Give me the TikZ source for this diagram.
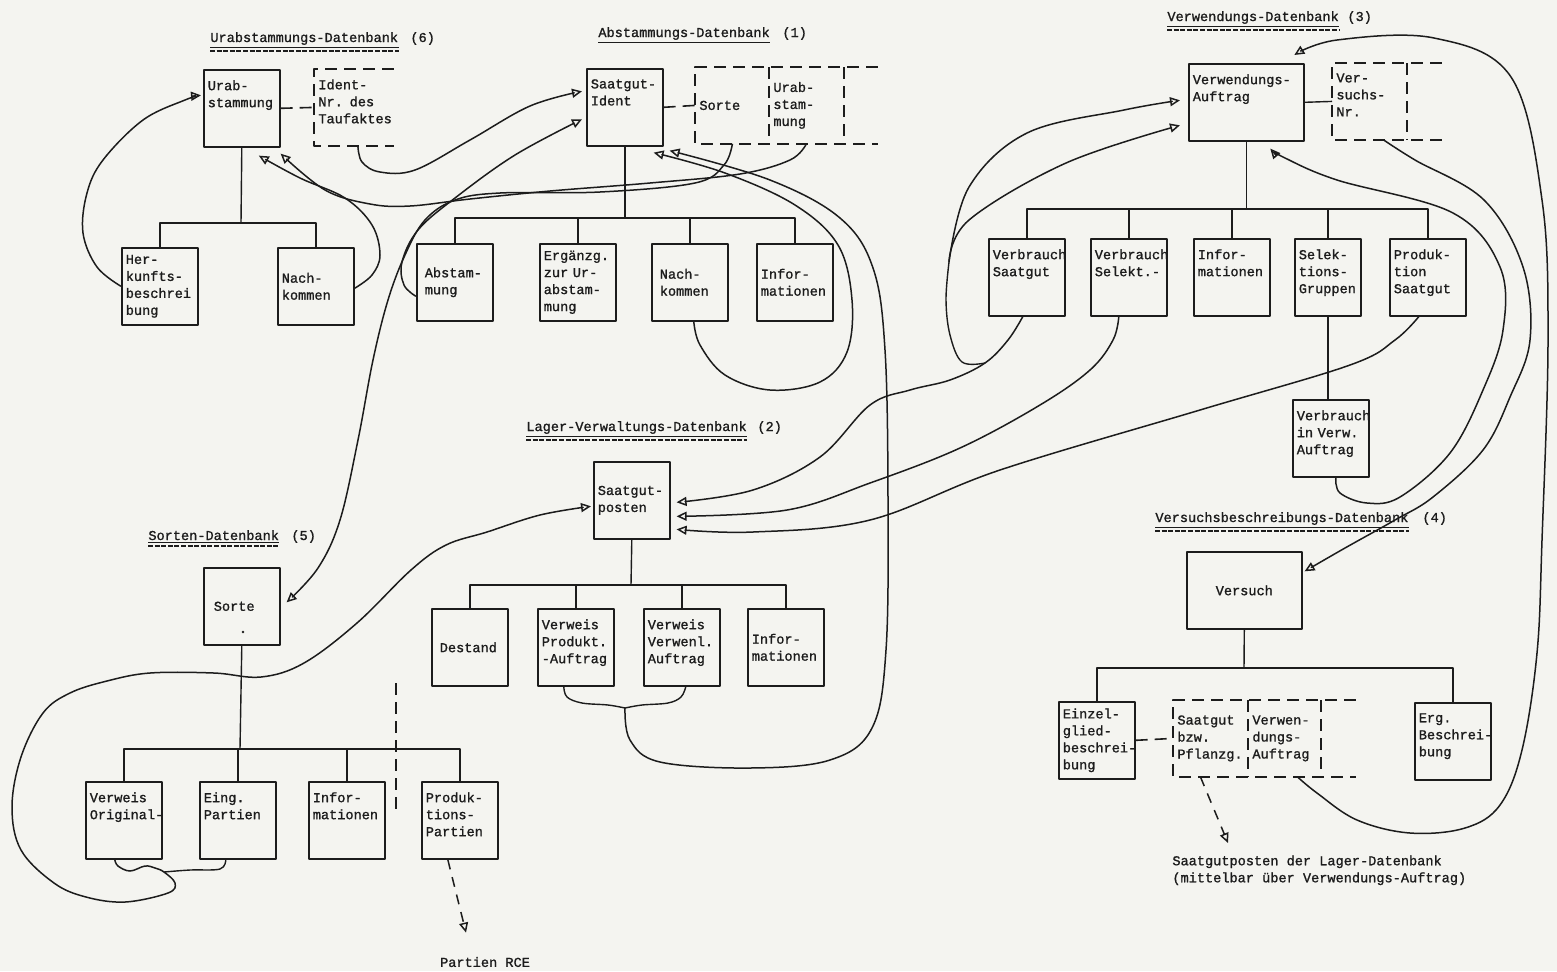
\documentclass[tikz,border=0pt]{standalone}
\usepackage{fontspec}
\newfontfamily\tw{Liberation Mono}[FakeBold=1.2]
\usetikzlibrary{arrows.meta,calc}
\definecolor{paper}{HTML}{F4F4F0}
\definecolor{ink}{HTML}{1C1C1C}
\newcommand{\up}[1]{\parbox[c][28pt][t]{\linewidth}{\raggedright #1}}

\begin{document}
\begin{tikzpicture}[
  x=0.5pt, y=-0.5pt,
  line join=round,
  font=\tw\fontsize{6.8}{8.5}\selectfont,
  every node/.style={text=ink},
  rec/.style={draw=ink, line width=0.8pt, anchor=north west, minimum width=38pt,
              minimum height=38.5pt, text width=34pt, inner sep=2pt, align=left},
  wide/.style={minimum width=57.5pt, text width=53.5pt},
  field/.style={anchor=north west, minimum width=37pt, minimum height=38pt,
                text width=33pt, inner sep=2pt, align=left},
  fieldline/.style={draw=ink, line width=0.8pt, dash pattern=on 6pt off 3.5pt},
  branch/.style={draw=ink, line width=0.7pt},
  ref/.style={draw=ink, line width=0.75pt, -{Triangle[open, length=5pt, width=4.5pt]}},
  dref/.style={ref, dash pattern=on 5pt off 4pt},
  dbtitle/.style={anchor=base west, inner sep=0pt},
]
\useasboundingbox (0,0) rectangle (1557,971);
\fill[paper] (0,0) rectangle (1557,971);

% --- Urabstammungs-Datenbank (6) ---
\node[dbtitle] (t6) at (210,42) {Urabstammungs-Datenbank};
\node[dbtitle] (t6n) at (410,42) {(6)};
\node[rec] (urab) at (203,69) {\up{Urab-\\stammung}};
\node[field, minimum width=39.5pt, text width=35.5pt] (identnr) at (314,69)
  {\up{Ident-\\Nr. des\\Taufaktes}};
\draw[fieldline] (identnr.north east) -- (identnr.north west)
  -- (identnr.south west) -- (identnr.south east);
\draw[fieldline] (urab.east) -- (identnr.west);

\node[rec] (herk) at (121,247) {Her-\\kunfts-\\beschrei\\bung};
\node[rec] (nachk1) at (277,247) {Nach-\\kommen};
\coordinate (bus6) at (241,223);
\draw[branch] (urab.south) -- (bus6);
\draw[branch] (herk.north) |- (bus6) -| (nachk1.north);

% --- Abstammungs-Datenbank (1) ---
\node[dbtitle] (t1) at (598,37) {Abstammungs-Datenbank};
\node[dbtitle] (t1n) at (782,37) {(1)};
\node[rec] (sgident) at (586,68) {\up{Saatgut-\\Ident}};
\node[field] (fsorte) at (695,67) {Sorte};
\node[field] (furab) at (769,67) {Urab-\\stam-\\mung};
\draw[fieldline] ([xshift=17pt]furab.north east) -- (fsorte.north west)
  -- (fsorte.south west) -- ([xshift=17pt]furab.south east);
\draw[fieldline] (furab.north west) -- (furab.south west);
\draw[fieldline] (furab.north east) -- (furab.south east);
\draw[fieldline] (sgident.east) -- (fsorte.west);

\node[rec] (abst) at (416,243) {\hspace*{2pt}Abstam-\\\hspace*{2pt}mung};
\node[rec] (ergz) at (539,243) {Ergänzg.\\zur Ur-\\abstam-\\mung};
\node[rec] (nachk2) at (651,243) {\hspace*{2pt}Nach-\\\hspace*{2pt}kommen};
\node[rec] (infoa) at (756,243) {Infor-\\mationen};
\coordinate (busA) at (623,218);
\draw[branch] (sgident.south) -- (sgident.south |- busA);
\draw[branch] (abst.north) |- (busA) -| (infoa.north);
\foreach \c in {ergz,nachk2}
  \draw[branch] (\c.north) -- (\c.north |- busA);

% --- Verwendungs-Datenbank (3) ---
\node[dbtitle] (t3) at (1167,21) {Verwendungs-Datenbank};
\node[dbtitle] (t3n) at (1347,21) {(3)};
\node[rec, wide] (verwa) at (1188,63) {\up{Verwendungs-\\Auftrag}};
\node[field] (versnr) at (1332,63) {\up{Ver-\\suchs-\\Nr.}};
\draw[fieldline] ([xshift=17.5pt]versnr.north east) -- (versnr.north west)
  -- (versnr.south west) -- ([xshift=17.5pt]versnr.south east);
\draw[fieldline] (versnr.north east) -- (versnr.south east);
\draw[branch] (verwa.east) -- (versnr.west);

\node[rec] (vsaat) at (988,238) {\up{Verbrauch\\Saatgut}};
\node[rec] (vsel) at (1090,238) {\up{Verbrauch\\Selekt.-}};
\node[rec] (infov) at (1193,238) {\up{Infor-\\mationen}};
\node[rec, minimum width=33pt, text width=29pt] (selgr) at (1294,238)
  {\up{Selek-\\tions-\\Gruppen}};
\node[rec] (prods) at (1389,238) {\up{Produk-\\tion\\Saatgut}};
\coordinate (busV) at (1246,209);
\draw[branch] (verwa.south) -- (verwa.south |- busV);
\draw[branch] (vsaat.north) |- (busV) -| (prods.north);
\foreach \c in {vsel,infov,selgr}
  \draw[branch] (\c.north) -- (\c.north |- busV);

\node[rec] (vinv) at (1292,399) {\up{Verbrauch\\in Verw.\\Auftrag}};
\draw[branch] (selgr.south) -- (selgr.south |- vinv.north);

% --- Lager-Verwaltungs-Datenbank (2) ---
\node[dbtitle] (t2) at (526,431) {Lager-Verwaltungs-Datenbank};
\node[dbtitle] (t2n) at (757,431) {(2)};
\node[rec] (sgposten) at (593,461) {Saatgut-\\posten};
\node[rec] (bestand) at (431,608) {\hspace*{2pt}Destand};
\node[rec] (vprod) at (537,608) {\up{Verweis\\Produkt.\\-Auftrag}};
\node[rec] (vverw) at (643,608) {\up{Verweis\\Verwenl.\\Auftrag}};
\node[rec] (infol) at (747,608) {Infor-\\mationen};
\coordinate (busL) at (631,585);
\draw[branch] (sgposten.south) -- (busL);
\draw[branch] (bestand.north) |- (busL) -| (infol.north);
\foreach \c in {vprod,vverw}
  \draw[branch] (\c.north) -- (\c.north |- busL);

% brace under the two references
\coordinate (brace) at (625,708);
\draw[branch] plot[smooth, tension=0.6] coordinates
  {([xshift=-6pt]vprod.south) (567,697) (582,703) (608,705) (brace)};
\draw[branch] plot[smooth, tension=0.6] coordinates
  {([xshift=2pt]vverw.south) (681,697) (668,703) (642,705) (brace)};

% --- Sorten-Datenbank (5) ---
\node[dbtitle] (t5) at (148,540) {Sorten-Datenbank};
\node[dbtitle] (t5n) at (291,540) {(5)};
\node[rec] (sorte) at (203,567) {\hspace*{3pt}Sorte};
\fill[ink] (243,632) circle (0.7pt);
\node[rec] (vorig) at (85,781) {\up{Verweis\\\mbox{Original-}}};
\node[rec] (eingp) at (199,781) {\up{Eing.\\Partien}};
\node[rec] (infos) at (308,781) {\up{Infor-\\mationen}};
\node[rec] (prodp) at (421,781) {\up{Produk-\\tions-\\Partien}};
\coordinate (busS) at (240,749);
\draw[branch] (sorte.south) -- (busS);
\draw[branch] (vorig.north) |- (busS) -| (prodp.north);
\foreach \c in {eingp,infos}
  \draw[branch] (\c.north) -- (\c.north |- busS);
\draw[fieldline] (396,683) -- (396,812);

\node[inner sep=0pt] (rce) at (485,962) {Partien RCE};
\draw[dref] ([xshift=-6pt]prodp.south) -- ([xshift=-9.5pt, yshift=12pt]rce.north);

% --- Versuchsbeschreibungs-Datenbank (4) ---
\node[dbtitle] (t4) at (1155,522) {Versuchsbeschreibungs-Datenbank};
\node[dbtitle] (t4n) at (1422,522) {(4)};
\node[rec, wide, align=center] (versuch) at (1186,551) {Versuch\\[3pt]};
\node[rec] (einzel) at (1058,701) {Einzel-\\glied-\\\mbox{beschrei-}\\bung};
\node[field] (fsaat) at (1173,700) {Saatgut\\bzw.\\Pflanzg.};
\node[field, minimum width=36pt, text width=32pt] (fverw) at (1248,700)
  {Verwen-\\dungs-\\Auftrag};
\node[rec] (erg) at (1414,702) {\up{Erg.\\\mbox{Beschrei-}\\bung}};
\coordinate (busE) at (1244,668);
\draw[branch] (versuch.south) -- (busE);
\draw[branch] (einzel.north) |- (busE) -| (erg.north);
\draw[fieldline] ([xshift=17.5pt]fverw.north east) -- (fsaat.north west)
  -- (fsaat.south west) -- ([xshift=17.5pt]fverw.south east);
\draw[fieldline] (fsaat.north east) -- (fsaat.south east);
\draw[fieldline] (fverw.north east) -- (fverw.south east);
\draw[fieldline] (einzel.east) -- (fsaat.west);

\node[anchor=north west, align=left, inner sep=0pt] (cap) at (1172,855)
  {Saatgutposten der Lager-Datenbank\\(mittelbar über Verwendungs-Auftrag)};
\draw[dref] ([xshift=-5pt]fsaat.south) -- ([xshift=28pt, yshift=6pt]cap.north west);

% underlines of the titles
\foreach \t in {t6,t3,t2,t5,t4} {
  \draw[ink, line width=0.5pt] ([yshift=-1.2pt]\t.south west) -- ([yshift=-1.2pt]\t.south east);
  \draw[ink, line width=1pt, dash pattern=on 2.5pt off 0.8pt]
    ([yshift=-2.8pt]\t.south west) -- ([yshift=-2.8pt]\t.south east);
}
\draw[ink, line width=0.5pt] ([yshift=-1.2pt]t1.south west) -- ([yshift=-1.2pt]t1.south east);

% --- references (6) ---
\draw[ref] plot[smooth, tension=0.6] coordinates
  {(herk.west) (97,267) (83,233) (87,193) (103,160) (143,120) (185,100)
   ([xshift=-1pt, yshift=6.5pt]urab.west)};
\draw[ref] plot[smooth, tension=0.6] coordinates
  {([yshift=-1pt]nachk1.east) (372,275) (380,255) (372,225) (345,198) (300,178)
   ([xshift=8.5pt, yshift=-4pt]urab.south)};
\draw[ref] plot[smooth, tension=0.6] coordinates
  {(furab.south) (790,160) (740,174) (650,183) (550,191) (470,199) (410,206)
   (370,204) (325,190) ([yshift=-3pt]urab.south east)};

% --- references (1) ---
\draw[ref] plot[smooth, tension=0.6] coordinates
  {([xshift=2pt]identnr.south) (362,162) (380,172) (415,170) (470,140) (530,106)
   ([xshift=-2pt, yshift=8pt]sgident.west)};
\draw[ref] plot[smooth, tension=0.6] coordinates
  {([yshift=-7pt]abst.west) (404,285) (402,262) (418,230) (455,198) (515,155)
   ([xshift=-2pt, yshift=-6pt]sgident.west)};
\draw[ref] plot[smooth, tension=0.6] coordinates
  {(fsorte.south) (724,165) (695,183) (600,192) (500,193) (455,200) (425,220)
   (405,255) (388,300) (373,360) (358,440) (340,520) (318,568)
   ([xshift=3pt, yshift=2pt]sorte.east)};
\draw[ref] plot[smooth, tension=0.6] coordinates
  {([xshift=2pt]nachk2.south) (700,345) (725,375) (770,390) (820,382) (847,352)
   (852,300) (838,245) (795,205) (725,173)
   ([xshift=-5pt, yshift=-3pt]sgident.south east)};
\draw[ref] plot[smooth, tension=0.6] coordinates
  {(brace) (630,740) (660,762) (750,768) (830,760) (872,728) (886,650) (888,500)
   (885,350) (873,268) (840,218) (770,180)
   ([xshift=3pt, yshift=-2pt]sgident.south east)};

% --- references (2) ---
\draw[ref] plot[smooth, tension=0.6] coordinates
  {([xshift=-4.5pt]vorig.south) (118,866) (130,871) (145,866) (155,868) (164,872)
   (175,883) (168,893) (125,902) (86,897) (54,883) (21,850) (12,807) (21,757)
   (43,713) (70,693) (107,681) (150,673) (214,673) (261,677) (304,663) (357,623)
   (411,570) (446,545) (487,532) (540,515) ([xshift=-1pt, yshift=-3pt]sgposten.west)};
\draw[branch] plot[smooth, tension=0.6] coordinates
  {(164,872) (190,870) (220,869) ([xshift=-6pt]eingp.south)};
\coordinate (vfork) at (985,363);
\draw[ref] plot[smooth, tension=0.6] coordinates
  {([xshift=-2pt]vsaat.south) (1008,340) (vfork) (950,380) (910,390) (870,405)
   (820,457) (753,490) ([xshift=3pt, yshift=-1pt]sgposten.east)};
\draw[ref] plot[smooth, tension=0.6] coordinates
  {([xshift=-5pt]vsel.south) (1113,340) (1090,370) (1040,405) (960,448) (870,483)
   (787,510) ([xshift=3pt, yshift=-8pt]sgposten.east)};
\draw[ref] plot[smooth, tension=0.6] coordinates
  {([xshift=-4.5pt]prods.south) (1395,340) (1350,365) (1200,410) (1000,470)
   (870,520) (753,532) ([xshift=3pt, yshift=-14.5pt]sgposten.east)};

% --- references (3) ---
\coordinate (lbend) at (949,262);
\draw[branch] plot[smooth, tension=0.6] coordinates
  {(vfork) (962,362) (950,335) (946,300) (lbend)};
\draw[ref] plot[smooth, tension=0.6] coordinates
  {(lbend) (969,187) (1027,133) (1124,110) ([xshift=-4pt, yshift=1pt]verwa.west)};
\draw[ref] plot[smooth, tension=0.6] coordinates
  {(lbend) (969,220) (1066,163) ([xshift=-4pt, yshift=-11.5pt]verwa.west)};
\draw[ref] plot[smooth, tension=0.6] coordinates
  {([xshift=2.5pt]vinv.south) (1340,493) (1367,503) (1400,497) (1450,453)
   (1483,390) (1503,330) (1500,267) (1453,213) (1337,180) (1285,158)
   ([xshift=12pt, yshift=-3.5pt]verwa.south)};
\draw[ref] plot[smooth, tension=0.6] coordinates
  {([xshift=6.5pt]fverw.south) (1317,793) (1357,820) (1410,833) (1465,828)
   (1500,805) (1522,750) (1537,653) (1542,540) (1548,340) (1542,200) (1511,77)
   (1434,38) (1337,40) ([xshift=24pt, yshift=4pt]verwa.north)};

% --- references (4) ---
\draw[ref] plot[smooth, tension=0.6] coordinates
  {([xshift=7pt]versnr.south) (1415,160) (1484,200) (1523,267) (1530,340)
   (1510,397) (1483,450) (1433,497) (1395,520) (1345,548)
   ([xshift=1pt, yshift=9.5pt]versuch.east)};

\end{tikzpicture}
\end{document}
